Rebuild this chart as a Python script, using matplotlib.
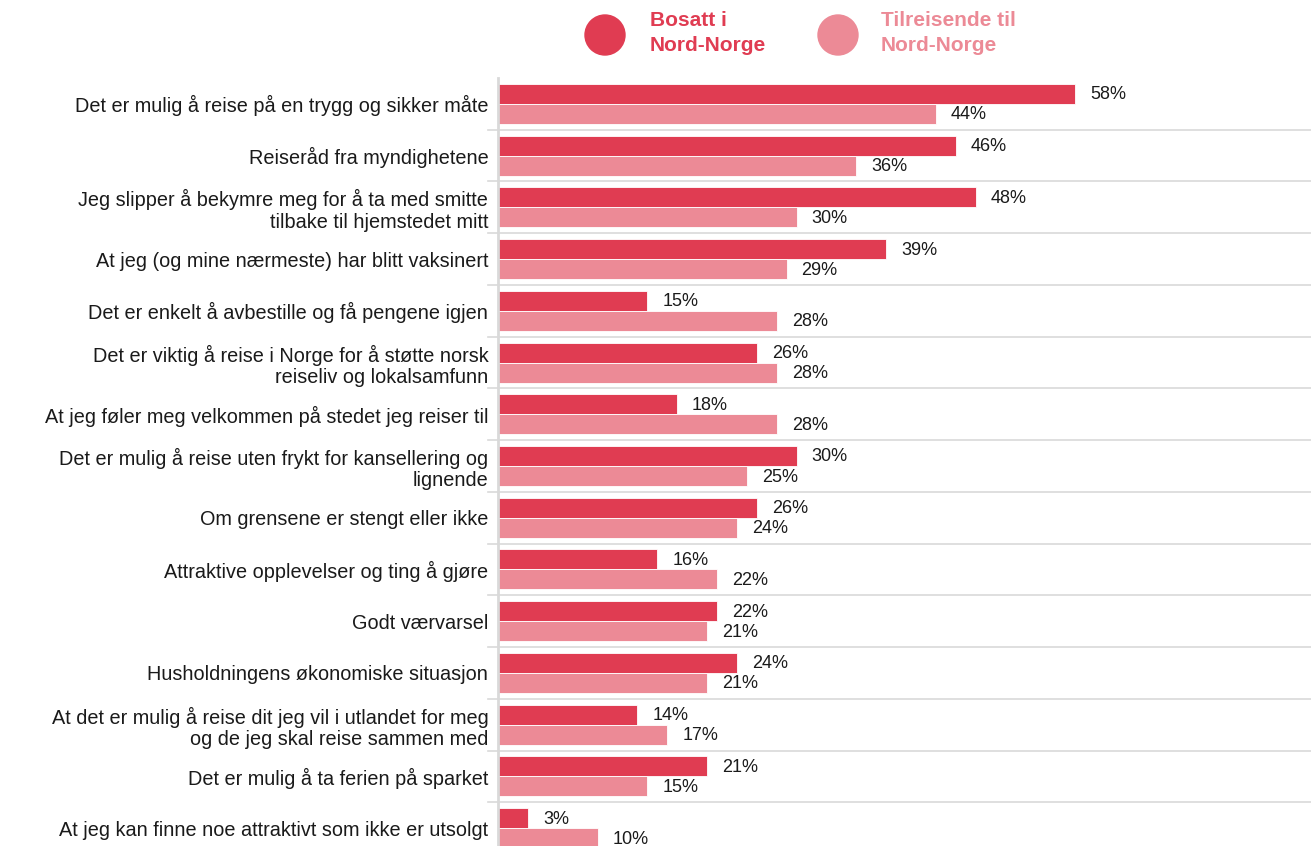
import matplotlib
matplotlib.use("Agg")
import matplotlib.pyplot as plt
from matplotlib.patches import Ellipse
import numpy as np

plt.rcParams['font.family'] = ['Liberation Sans', 'DejaVu Sans']

categories = [
    "Det er mulig å reise på en trygg og sikker måte",
    "Reiseråd fra myndighetene",
    "Jeg slipper å bekymre meg for å ta med smitte\ntilbake til hjemstedet mitt",
    "At jeg (og mine nærmeste) har blitt vaksinert",
    "Det er enkelt å avbestille og få pengene igjen",
    "Det er viktig å reise i Norge for å støtte norsk\nreiseliv og lokalsamfunn",
    "At jeg føler meg velkommen på stedet jeg reiser til",
    "Det er mulig å reise uten frykt for kansellering og\nlignende",
    "Om grensene er stengt eller ikke",
    "Attraktive opplevelser og ting å gjøre",
    "Godt værvarsel",
    "Husholdningens økonomiske situasjon",
    "At det er mulig å reise dit jeg vil i utlandet for meg\nog de jeg skal reise sammen med",
    "Det er mulig å ta ferien på sparket",
    "At jeg kan finne noe attraktivt som ikke er utsolgt",
]
bosatt = [58, 46, 48, 39, 15, 26, 18, 30, 26, 16, 22, 24, 14, 21, 3]
tilreisende = [44, 36, 30, 29, 28, 28, 28, 25, 24, 22, 21, 21, 17, 15, 10]
series_names = ["Bosatt i\nNord-Norge", "Tilreisende til\nNord-Norge"]

c_dark = "#E03C52"
c_light = "#EC8A96"
grid_c = "#D9D9D9"

W, H = 1311, 846
fig = plt.figure(figsize=(W / 100, H / 100), dpi=100)
top_px, bot_px = 78, 854
ax = fig.add_axes([498 / W, 1 - bot_px / H, 1 - 498 / W, (bot_px - top_px) / H])

n = len(categories)
y = np.arange(n)
bh = 0.387
ax.barh(y - bh / 2, bosatt, height=bh, color=c_dark, edgecolor='white', linewidth=0.6)
ax.barh(y + bh / 2, tilreisende, height=bh, color=c_light, edgecolor='white', linewidth=0.6)

ax.set_xlim(0, 81.7)
ax.set_ylim(n - 0.5, -0.5)

for i in range(n):
    ax.annotate(f"{bosatt[i]}%", (bosatt[i], i - bh / 2), xytext=(15, -1),
                textcoords='offset pixels', va='center', ha='left', fontsize=13, color='#1a1a1a')
    ax.annotate(f"{tilreisende[i]}%", (tilreisende[i], i + bh / 2), xytext=(15, -1),
                textcoords='offset pixels', va='center', ha='left', fontsize=13, color='#1a1a1a')

# separators
for i in range(n - 1):
    ax.plot([-0.012, 1], [i + 0.5, i + 0.5], transform=ax.get_yaxis_transform(),
            color=grid_c, lw=1.2, clip_on=False, zorder=0)

ax.set_yticks(y)
ax.set_yticklabels(categories, fontsize=14.3, color='#1a1a1a', linespacing=1.15)
ax.tick_params(axis='y', length=0, pad=7)
ax.set_xticks([])
for s in ['top', 'right', 'bottom']:
    ax.spines[s].set_visible(False)
ax.spines['left'].set_color(grid_c)
ax.spines['left'].set_linewidth(2)

# legend
for (cx, tx, col, name) in [(605, 650, c_dark, series_names[0]), (838, 881, c_light, series_names[1])]:
    fig.add_artist(Ellipse((cx / W, 1 - 35 / H), 40 / W, 40 / H, transform=fig.transFigure,
                           color=col))
    fig.text(tx / W, 1 - 33 / H, name, color=col, fontsize=15, fontweight='bold',
             va='center', ha='left', linespacing=1.35)

fig.savefig("out.png", dpi=100)
